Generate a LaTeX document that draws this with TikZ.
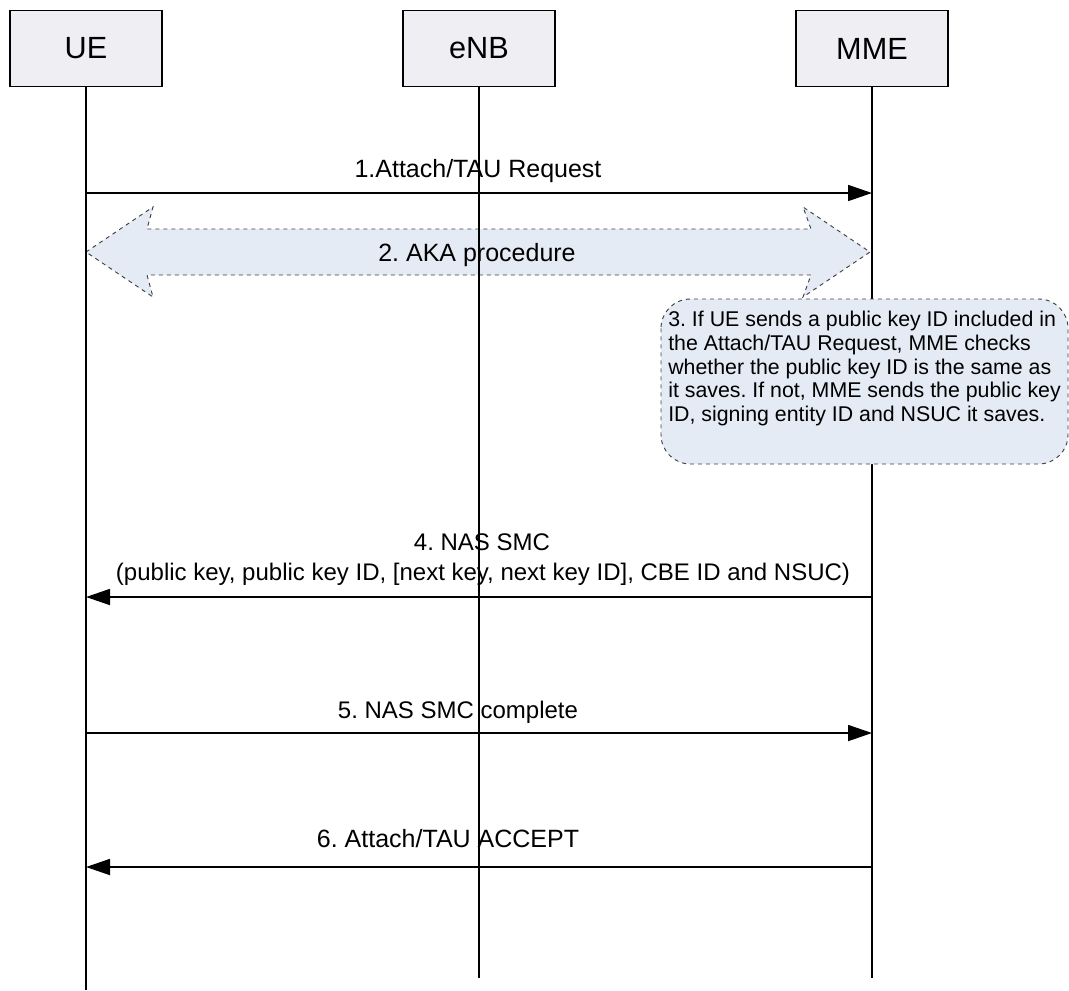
\documentclass[tikz,border=0pt]{standalone}
\usepackage{fontspec}
\setmainfont{Liberation Sans}
\usetikzlibrary{arrows.meta}
\definecolor{boxfill}{HTML}{EFEEF3}
\definecolor{akafill}{HTML}{E5EBF5}
\definecolor{dashcol}{HTML}{404040}
\frenchspacing
\tikzset{
  actor/.style={draw=black, line width=1.3pt, fill=boxfill, minimum width=114pt, minimum height=57pt, inner sep=0pt, font=\fontsize{23}{27}\selectfont},
  life/.style={line width=1.2pt},
  msg/.style={line width=1.3pt, -{Triangle[length=18pt,width=12pt]}},
  lbl/.style={anchor=base, inner sep=0pt, font=\fontsize{18.75}{22}\selectfont},
  akabox/.style={fill=akafill, draw=dashcol, dashed, line width=0.7pt},
  note/.style={fill=akafill, draw=dashcol, dashed, line width=0.7pt, rounded corners=22pt},
}
\begin{document}
\frenchspacing
\begin{tikzpicture}[x=0.75pt, y=-0.75pt]
\useasboundingbox (0,0) rectangle (1069,990);
% actors
\node[actor] (ue) at (86,48.5) {UE};
\node[actor] (enb) at (479,48.5) {eNB};
\node[actor] (mme) at (872,48.5) {MME};
% lifeline ends
\coordinate (ueend) at (86,990);
\coordinate (enbend) at (479,978);
\coordinate (mmeend) at (872,978);
% AKA double arrow
\path[akabox] (86,252) -- (153,207) -- (147,229) -- (811,229) -- (803,207) -- (870,252)
  -- (803,297) -- (811,275) -- (147,275) -- (153,297) -- cycle;
\node[lbl] (l2) at (477,261) {2. AKA procedure};
% lifelines
\draw[life] (ue.south) -- (ueend);
\draw[life] (enb.south) -- (enbend);
\draw[life] (mme.south) -- (mmeend);
% message anchors
\coordinate (ue1) at (86,193);  \coordinate (mme1) at (872,193);
\coordinate (ue4) at (86,597);  \coordinate (mme4) at (872,597);
\coordinate (ue5) at (86,733);  \coordinate (mme5) at (872,733);
\coordinate (ue6) at (86,867);  \coordinate (mme6) at (872,867);
\draw[msg] (ue1) -- (mme1);
\node[lbl] (l1) at (478,177) {1.Attach/TAU Request};
\draw[msg] (mme4) -- (ue4);
\node[lbl, font=\fontsize{18}{22}\selectfont] (l4a) at (482,550) {4. NAS SMC};
\node[lbl, font=\fontsize{18}{22}\selectfont] (l4b) at (483,580) {(public key, public key ID, [next key, next key ID], CBE ID and NSUC)};
\draw[msg] (ue5) -- (mme5);
\node[lbl, font=\fontsize{18}{22}\selectfont] (l5) at (458,718) {5. NAS SMC complete};
\draw[msg] (mme6) -- (ue6);
\node[lbl] (l6) at (448,847) {6. Attach/TAU ACCEPT};
% note 3
\draw[note] (661,299) rectangle (1068,464);
\node[anchor=north west, inner sep=0pt, align=left, font=\fontsize{16}{17.8}\selectfont] (n3) at (668,311)
{3. If UE sends a public key ID included in\\the Attach/TAU Request, MME checks\\whether the public key ID is the same as\\it saves. If not, MME sends the public key\\ID, signing entity ID and NSUC it saves.};
\end{tikzpicture}
\end{document}
